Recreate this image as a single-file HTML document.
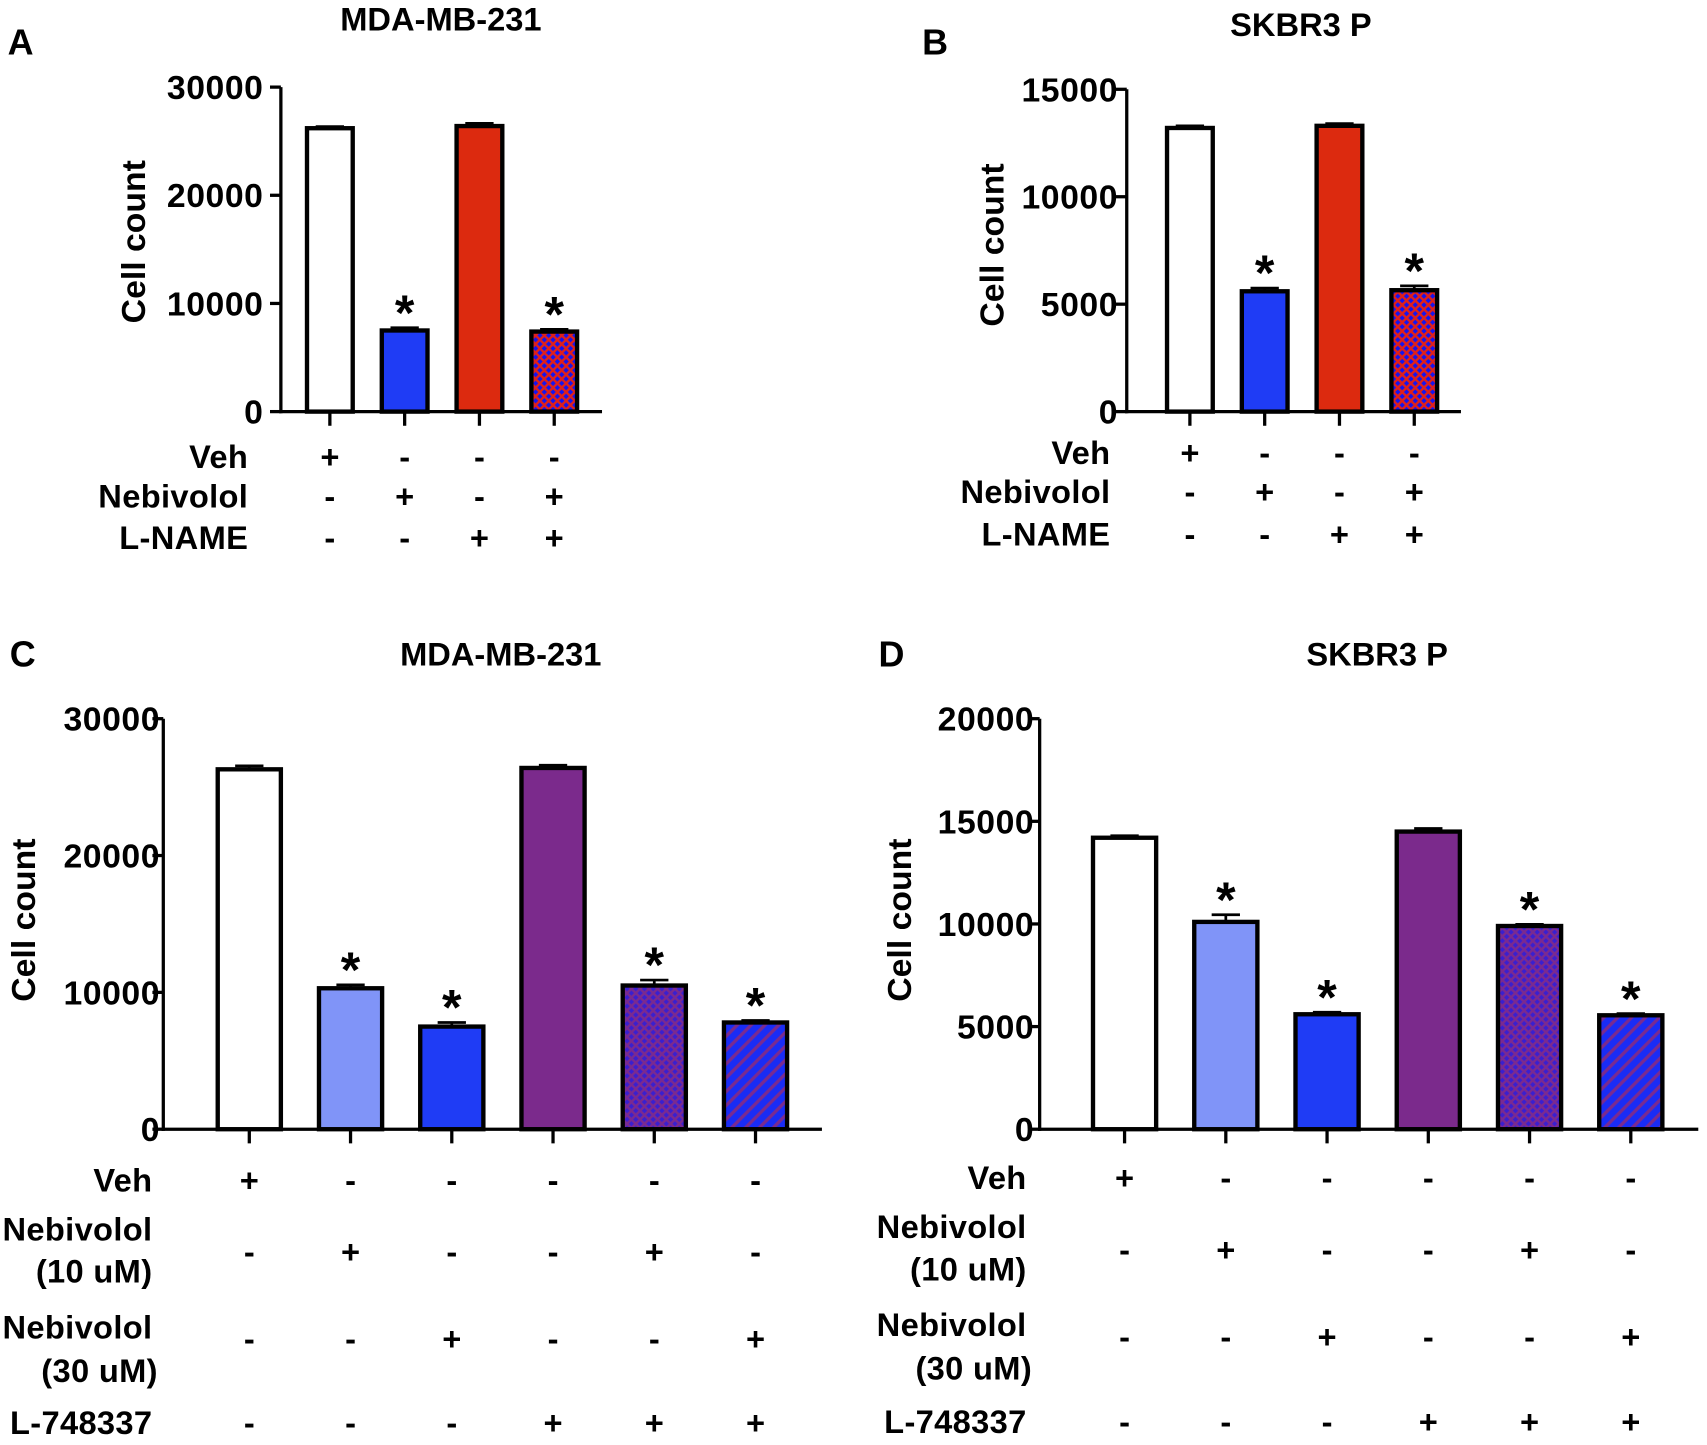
<!DOCTYPE html>
<html><head><meta charset="utf-8"><style>
html,body{margin:0;padding:0;background:#fff}
svg{display:block}
text{font-family:"Liberation Sans",sans-serif;font-weight:bold;fill:#000}
</style></head><body>
<svg id="fig" width="1707" height="1445" viewBox="0 0 1568 1327" preserveAspectRatio="none" xmlns="http://www.w3.org/2000/svg">
<defs>
<pattern id="xhatchRed" patternUnits="userSpaceOnUse" width="8" height="8"><rect width="8" height="8" fill="#1414f0"/><path d="M0,0L8,8M8,0L0,8" stroke="#e0201a" stroke-width="2.2"/></pattern>
<pattern id="xhatchPurple" patternUnits="userSpaceOnUse" width="8" height="8"><rect width="8" height="8" fill="#3a1fd0"/><path d="M0,0L8,8M8,0L0,8" stroke="#7a2a90" stroke-width="2.2"/></pattern>
<pattern id="diag" patternUnits="userSpaceOnUse" width="9" height="9" patternTransform="rotate(45)"><rect width="9" height="9" fill="#1a2cf5"/><rect width="3" height="9" fill="#7a2a90"/></pattern>
</defs>
</svg>
<script>
// Panel A data
const catsA = ["Veh","Nebivolol","L-NAME","Nebivolol+L-NAME"];
const valsA = [26200, 7500, 26400, 7400];
const errA = [150, 250, 250, 200];
const starA = [false, true, false, true];
const ticksA = [0, 10000, 20000, 30000];
// Panel B data
const catsB = ["Veh","Nebivolol","L-NAME","Nebivolol+L-NAME"];
const valsB = [13200, 5600, 13300, 5650];
const errB = [100, 150, 100, 200];
const starB = [false, true, false, true];
const ticksB = [0, 5000, 10000, 15000];
// Panel C data
const catsC = ["Veh","Neb10","Neb30","L-748337","Neb10+L","Neb30+L"];
const valsC = [26300, 10300, 7500, 26400, 10500, 7800];
const errC = [250, 250, 300, 200, 400, 150];
const starC = [false, true, true, false, true, true];
const ticksC = [0, 10000, 20000, 30000];
// Panel D data
const catsD = ["Veh","Neb10","Neb30","L-748337","Neb10+L","Neb30+L"];
const valsD = [14200, 10100, 5600, 14500, 9900, 5550];
const errD = [100, 350, 100, 150, 80, 80];
const starD = [false, true, true, false, true, true];
const ticksD = [0, 5000, 10000, 15000, 20000];

const svg = document.getElementById('fig');
const NS = "http://www.w3.org/2000/svg";
function mk(tag, attrs, parent){const e=document.createElementNS(NS,tag);for(const k in attrs)e.setAttribute(k,attrs[k]);(parent||svg).appendChild(e);return e;}
function txt(s, attrs, parent){const e=mk('text',attrs,parent);e.textContent=s;return e;}

function panel(cfg){
  const g = mk('g',{});
  
  
  const y = v => cfg.y0 - (v/cfg.ymax)*(cfg.y0-cfg.yTop);
  const x = i => cfg.xFirst + i*cfg.step;
  let t;
  t = txt(cfg.letter,{x:cfg.letterX,y:cfg.letterY,'font-size':33},g);
   
  t = txt(cfg.title,{x:cfg.titleX,y:cfg.titleY,'font-size':30,'text-anchor':'middle'},g);
   
  t = txt('Cell count',{x:0,y:0,'font-size':31,'text-anchor':'middle',transform:`translate(${cfg.ylabX},${cfg.ylabY}) rotate(-90)`},g);
   
  cfg.vals.forEach((v,i)=>{
    const top=y(v);
    const r = mk('rect',{x:x(i)-cfg.bw/2,y:top,width:cfg.bw,height:cfg.y0-top,fill:cfg.fills[i],stroke:'#000','stroke-width':4},g);
     
    const ey=y(v+cfg.err[i]);
    const e=mk('path',{d:`M${x(i)},${top}V${ey}M${x(i)-13},${ey}H${x(i)+13}`,stroke:'#000','stroke-width':2.5,fill:'none'},g);
     
    if(cfg.star[i]){
      const s=txt('*',{x:x(i),y:ey+2,'font-size':46,'text-anchor':'middle'},g);
       
    }
    const tk=mk('line',{x1:x(i),x2:x(i),y1:cfg.y0,y2:cfg.y0+13,stroke:'#000','stroke-width':3},g);
     
  });
  const ya=mk('line',{x1:cfg.ax,x2:cfg.ax,y1:cfg.yTop,y2:cfg.y0+1.5,stroke:'#000','stroke-width':3},g);
   
  const xa=mk('line',{x1:cfg.ax-1.5,x2:cfg.xEnd,y1:cfg.y0,y2:cfg.y0,stroke:'#000','stroke-width':3},g);
   
  cfg.ticks.forEach(v=>{
    const l=mk('line',{x1:cfg.ax-10,x2:cfg.ax,y1:y(v),y2:y(v),stroke:'#000','stroke-width':3},g);
     
    const tl=txt(String(v),{x:cfg.ax-cfg.tOff,y:y(v)+11,'font-size':31,'text-anchor':'end','letter-spacing':'0.5'},g);
     
  });
  cfg.rows.forEach(row=>{
    row.labels.forEach((lb,k)=>{
      const l=txt(lb,{x:cfg.labX+(row.dx||0)*(k?1:0),y:row.ly[k],'font-size':30,'text-anchor':'end','letter-spacing':'0.3'},g);
       
    });
    row.signs.forEach((s,i)=>{
      const st=txt(s,{x:x(i),y:row.sy,'font-size':30,'text-anchor':'middle'},g);
       
    });
  });
}

panel({name:'panel-a',letter:'A',letterX:7,letterY:50,title:'MDA-MB-231',titleX:405,titleY:28,ylabX:133,ylabY:222,tOff:16,
  ax:258,yTop:80,y0:378,ymax:30000,xEnd:553,xFirst:303,step:68.7,bw:42,vals:valsA,err:errA,star:starA,ticks:ticksA,
  fills:['#fff','#1f3cf5','#dc2a0f','url(#xhatchRed)'],labX:228,
  rows:[{labels:['Veh'],ly:[430],signs:['+','-','-','-'],sy:430},
        {labels:['Nebivolol'],ly:[466],signs:['-','+','-','+'],sy:466},
        {labels:['L-NAME'],ly:[504],signs:['-','-','+','+'],sy:504}]});
panel({name:'panel-b',letter:'B',letterX:847,letterY:50,title:'SKBR3 P',titleX:1195,titleY:33,ylabX:922,ylabY:225,tOff:8,
  ax:1035,yTop:82,y0:378,ymax:15000,xEnd:1342,xFirst:1093,step:68.7,bw:42,vals:valsB,err:errB,star:starB,ticks:ticksB,
  fills:['#fff','#1f3cf5','#dc2a0f','url(#xhatchRed)'],labX:1020,
  rows:[{labels:['Veh'],ly:[426],signs:['+','-','-','-'],sy:426},
        {labels:['Nebivolol'],ly:[462],signs:['-','+','-','+'],sy:462},
        {labels:['L-NAME'],ly:[501],signs:['-','-','+','+'],sy:501}]});
panel({name:'panel-c',letter:'C',letterX:9,letterY:612,title:'MDA-MB-231',titleX:460,titleY:611,ylabX:32,ylabY:845,tOff:3,
  ax:150,yTop:660,y0:1037,ymax:30000,xEnd:755,xFirst:229,step:93,bw:58,vals:valsC,err:errC,star:starC,ticks:ticksC,
  fills:['#fff','#8094f8','#1f3cf5','#7b2a8c','url(#xhatchPurple)','url(#diag)'],labX:140,
  rows:[{labels:['Veh'],ly:[1094],signs:['+','-','-','-','-','-'],sy:1094},
        {labels:['Nebivolol','(10 uM)'],ly:[1139,1178],signs:['-','+','-','-','+','-'],sy:1160},
        {labels:['Nebivolol','(30 uM)'],ly:[1229,1269],dx:5,signs:['-','-','+','-','-','+'],sy:1240},
        {labels:['L-748337'],ly:[1317],signs:['-','-','-','+','+','+'],sy:1317}]});
panel({name:'panel-d',letter:'D',letterX:807,letterY:612,title:'SKBR3 P',titleX:1265,titleY:611,ylabX:837,ylabY:845,tOff:5,
  ax:955,yTop:660,y0:1037,ymax:20000,xEnd:1560,xFirst:1033,step:93,bw:58,vals:valsD,err:errD,star:starD,ticks:ticksD,
  fills:['#fff','#8094f8','#1f3cf5','#7b2a8c','url(#xhatchPurple)','url(#diag)'],labX:943,
  rows:[{labels:['Veh'],ly:[1092],signs:['+','-','-','-','-','-'],sy:1092},
        {labels:['Nebivolol','(10 uM)'],ly:[1137,1176],signs:['-','+','-','-','+','-'],sy:1158},
        {labels:['Nebivolol','(30 uM)'],ly:[1227,1267],dx:5,signs:['-','-','+','-','-','+'],sy:1238},
        {labels:['L-748337'],ly:[1316],signs:['-','-','-','+','+','+'],sy:1316}]});
</script>
</body></html>
